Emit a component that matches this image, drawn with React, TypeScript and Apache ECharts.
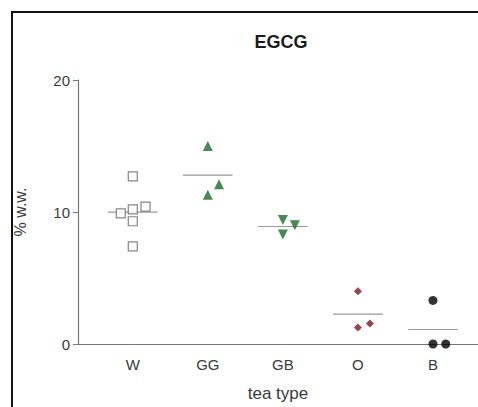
import React, { useEffect, useRef } from "react";
import * as echarts from "echarts";

const categories = ["W", "GG", "GB", "O", "B"];
const wValues = [12.7, 9.9, 10.2, 10.4, 9.3, 7.4];
const wJitter = [0, -0.16, 0, 0.17, 0, 0];
const ggValues = [15.0, 12.1, 11.3];
const ggJitter = [0, 0.15, 0];
const gbValues = [9.4, 9.0, 8.3];
const gbJitter = [0, 0.16, 0];
const oValues = [4.0, 1.55, 1.25];
const oJitter = [0, 0.16, 0];
const bValues = [3.3, 0, 0];
const bJitter = [0, 0, 0.17];
const yTicks = [0, 10, 20];

const groups = [
  { values: wValues, jitter: wJitter, symbol: "rect", size: 9, fill: "#ffffff", stroke: "#666666", lw: 1.2 },
  { values: ggValues, jitter: ggJitter, symbol: "triangle", size: 10, fill: "#1a6b2a", stroke: "#1a6b2a", lw: 0 },
  { values: gbValues, jitter: gbJitter, symbol: "path://M0,0L10,0L5,9Z", size: 10, fill: "#1a6b2a", stroke: "#1a6b2a", lw: 0 },
  { values: oValues, jitter: oJitter, symbol: "diamond", size: 8, fill: "#7f1426", stroke: "#7f1426", lw: 0 },
  { values: bValues, jitter: bJitter, symbol: "circle", size: 9, fill: "#000000", stroke: "#000000", lw: 0 },
];

export default function App() {
  const ref = useRef<HTMLDivElement>(null);
  useEffect(() => {
    const chart = echarts.init(ref.current!, undefined, { renderer: "svg" });
    const series: any[] = [];
    groups.forEach((g, i) => {
      const pos = i + 1;
      series.push({
        type: "scatter",
        symbol: g.symbol,
        symbolSize: g.size,
        itemStyle: { color: g.fill, borderColor: g.stroke, borderWidth: g.lw },
        data: g.values.map((v, k) => [pos + g.jitter[k], v]),
        z: 3,
      });
      const mean = g.values.reduce((a, b) => a + b, 0) / g.values.length;
      series.push({
        type: "line",
        symbol: "none",
        lineStyle: { color: "#999999", width: 1.2 },
        data: [[pos - 0.33, mean], [pos + 0.33, mean]],
        z: 2,
      });
    });
    chart.setOption({
      animation: false,
      backgroundColor: "#ffffff",
      grid: { left: 78, right: 0, top: 80, bottom: 56 },
      xAxis: {
        type: "value",
        min: 0.27,
        max: 5.6,
        name: "tea type",
        nameLocation: "middle",
        nameGap: 41,
        nameTextStyle: { fontSize: 17, color: "#3a3a3a", fontFamily: "Liberation Sans" },
        axisLine: { show: true, onZero: false, lineStyle: { color: "#777", width: 1.2 } },
        axisTick: { show: false },
        splitLine: { show: false },
        axisLabel: {
          customValues: [1, 2, 3, 4, 5],
          formatter: (v: number) => categories[Math.round(v) - 1] ?? "",
          fontSize: 15,
          color: "#3a3a3a",
          margin: 13,
          fontFamily: "Liberation Sans",
        },
      },
      yAxis: {
        type: "value",
        min: 0,
        max: 20,
        interval: 10,
        name: "% w.w.",
        nameLocation: "middle",
        nameGap: 50,
        nameRotate: 90,
        nameTextStyle: { fontSize: 16, color: "#3a3a3a", fontFamily: "Liberation Sans" },
        axisLine: { show: true, lineStyle: { color: "#777", width: 1.2 } },
        axisTick: { show: true, length: 5, lineStyle: { color: "#777" } },
        splitLine: { show: false },
        axisLabel: {
          customValues: yTicks,
          fontSize: 15,
          color: "#3a3a3a",
          margin: 8,
          fontFamily: "Liberation Sans",
        },
      },
      graphic: [
        {
          type: "rect",
          shape: { x: 12, y: 12, width: 490, height: 420 },
          style: { fill: "none", stroke: "#111", lineWidth: 2 },
          silent: true,
          z: 10,
        },
        {
          type: "text",
          x: 281,
          y: 42,
          style: {
            text: "EGCG",
            fontSize: 18,
            fontWeight: "bold",
            fill: "#1a1a1a",
            fontFamily: "Liberation Sans",
            textAlign: "center",
            textVerticalAlign: "middle",
          },
        },
      ],
      series,
    });
    return () => chart.dispose();
  }, []);
  return (
    <div
      ref={ref}
      style={{ position: "fixed", left: 0, top: 0, width: 478, height: 407 }}
    />
  );
}
